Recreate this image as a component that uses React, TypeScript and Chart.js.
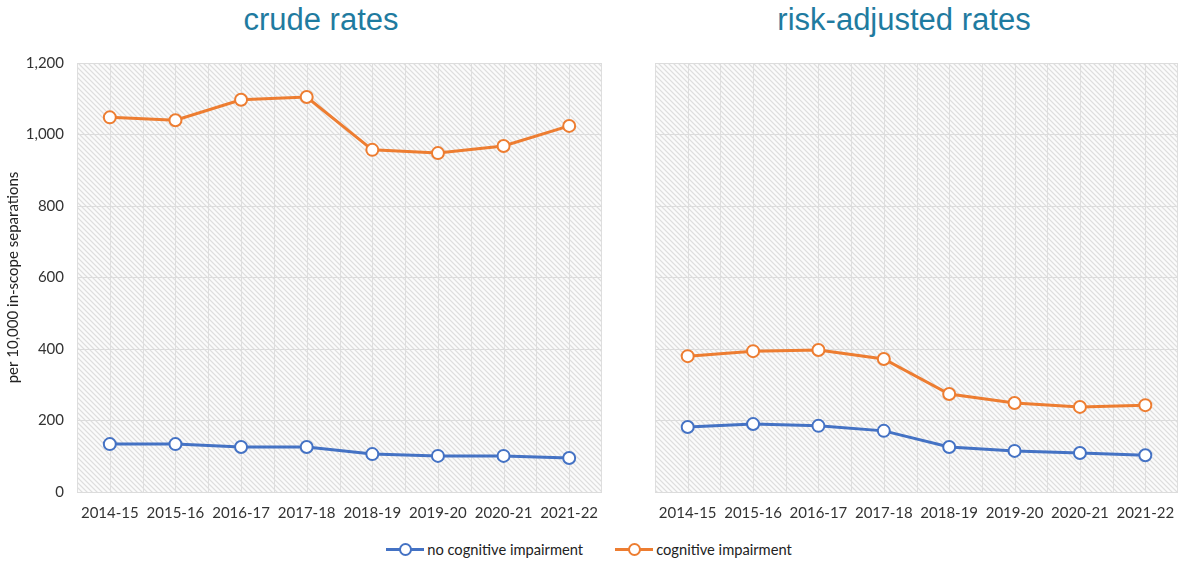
import React, { useEffect, useRef } from 'react';
import { Chart, registerables } from 'chart.js';
Chart.register(...registerables);

const categories = ['2014-15', '2015-16', '2016-17', '2017-18', '2018-19', '2019-20', '2020-21', '2021-22'];
const crudeNoCI = [134, 134, 126, 126, 106, 101, 101, 95];
const crudeCI = [1048, 1040, 1097, 1105, 957, 948, 968, 1024];
const adjNoCI = [182, 190, 185, 171, 126, 115, 109, 103];
const adjCI = [380, 394, 397, 372, 274, 249, 238, 243];
const yMin = 0;
const yMax = 1200;
const yStep = 200;
const panelTitles = ['crude rates', 'risk-adjusted rates'];
const seriesNames = ['no cognitive impairment', 'cognitive impairment'];
const yAxisTitle = 'per 10,000 in-scope separations';

const BLUE = '#4472C4';
const ORANGE = '#ED7D31';
const TITLE_COLOR = '#1F7BA0';
const TICK_FONT = 'Lato, "Noto Sans", sans-serif';

function makePattern(ctx: CanvasRenderingContext2D) {
  const s = 5;
  const c = document.createElement('canvas');
  c.width = s;
  c.height = s;
  const g = c.getContext('2d')!;
  const img = g.createImageData(s, s);
  for (let y = 0; y < s; y++) {
    for (let x = 0; x < s; x++) {
      const d = (((x - y) % s) + s) % s;
      const v = d === 0 ? 222 : d === 1 || d === s - 1 ? 240 : 251;
      const i = (y * s + x) * 4;
      img.data[i] = v;
      img.data[i + 1] = v;
      img.data[i + 2] = v;
      img.data[i + 3] = 255;
    }
  }
  g.putImageData(img, 0, 0);
  return ctx.createPattern(c, 'repeat');
}

const bgPlugin = {
  id: 'hatchBg',
  beforeDraw(chart: any) {
    const { ctx, chartArea: a, scales } = chart;
    ctx.save();
    ctx.fillStyle = makePattern(ctx) as any;
    ctx.fillRect(a.left, a.top, a.width, a.height);
    const xs = scales.x;
    const step = xs.getPixelForValue(1) - xs.getPixelForValue(0);
    ctx.strokeStyle = '#dedede';
    ctx.lineWidth = 1;
    ctx.beginPath();
    for (let i = 0; i < categories.length; i++) {
      const c = xs.getPixelForValue(i);
      const pos = i === 0 ? [c - step / 2, c, c + step / 2] : [c, c + step / 2];
      for (const p of pos) {
        const px = Math.min(Math.round(p) + 0.5, a.right - 0.5);
        ctx.moveTo(px, a.top);
        ctx.lineTo(px, a.bottom);
      }
    }
    ctx.stroke();
    ctx.restore();
  },
};

function Panel(props: { noCI: number[]; ci: number[]; showY: boolean; yWidth: number; padRight: number }) {
  const ref = useRef<HTMLCanvasElement>(null);
  useEffect(() => {
    const ds = (label: string, data: number[], color: string) => ({
      label,
      data,
      borderColor: color,
      backgroundColor: '#ffffff',
      borderWidth: 3,
      pointRadius: 6,
      pointBorderWidth: 2,
      pointBackgroundColor: '#ffffff',
      pointBorderColor: color,
      tension: 0,
    });
    const chart = new Chart(ref.current!, {
      type: 'line',
      data: {
        labels: categories,
        datasets: [ds(seriesNames[0], props.noCI, BLUE), ds(seriesNames[1], props.ci, ORANGE)],
      },
      plugins: [bgPlugin],
      options: {
        animation: false,
        responsive: true,
        maintainAspectRatio: false,
        locale: 'en-US',
        layout: { autoPadding: false, padding: { top: 63, right: props.padRight, left: 0, bottom: 0 } },
        plugins: { legend: { display: false }, tooltip: { enabled: false }, title: { display: false } },
        scales: {
          x: {
            offset: true,
            grid: { display: false, drawTicks: false },
            border: { display: false },
            ticks: { color: '#333333', font: { family: TICK_FONT, size: 15 }, padding: 12, maxRotation: 0 },
            afterFit: (s: any) => {
              s.height = 38;
              s.paddingLeft = 0;
              s.paddingRight = 0;
            },
          },
          y: {
            min: yMin,
            max: yMax,
            grid: { color: '#dcdcdc', drawTicks: false },
            border: { display: false },
            ticks: {
              display: props.showY,
              stepSize: yStep,
              color: '#333333',
              font: { family: TICK_FONT, size: 15 },
              padding: 13,
            },
            title: {
              display: props.showY,
              text: yAxisTitle,
              color: '#222222',
              font: { family: TICK_FONT, size: 15 },
              padding: { top: 4, bottom: 0 },
            },
            afterFit: (s: any) => {
              s.width = props.yWidth;
            },
          },
        },
      } as any,
    });
    return () => chart.destroy();
  }, []);
  return <canvas ref={ref} />;
}

function LegendItem(props: { color: string; label: string }) {
  return (
    <div style={{ display: 'flex', alignItems: 'center', marginRight: 32 }}>
      <div style={{ position: 'relative', width: 38, height: 14, marginRight: 3 }}>
        <div style={{ position: 'absolute', left: 0, right: 0, top: 6, height: 3, background: props.color }} />
        <div
          style={{
            position: 'absolute',
            left: 13,
            top: 1,
            width: 9,
            height: 9,
            borderRadius: '50%',
            border: `2px solid ${props.color}`,
            background: '#fff',
          }}
        />
      </div>
      <span style={{ fontFamily: TICK_FONT, fontSize: 14.7, color: '#222' }}>{props.label}</span>
    </div>
  );
}

export default function App() {
  const titleStyle = (center: number): React.CSSProperties => ({
    position: 'absolute',
    left: center - 250,
    width: 500,
    top: 2,
    textAlign: 'center',
    fontFamily: '"Liberation Sans", Arial, sans-serif',
    fontSize: 31,
    lineHeight: '36px',
    color: TITLE_COLOR,
  });
  return (
    <div style={{ position: 'absolute', left: 0, top: 0, width: 1178, height: 561, background: '#fff', overflow: 'hidden' }}>
      <div style={titleStyle(321)}>{panelTitles[0]}</div>
      <div style={titleStyle(904)}>{panelTitles[1]}</div>
      <div style={{ position: 'absolute', left: 0, top: 0, width: 609, height: 530 }}>
        <Panel noCI={crudeNoCI} ci={crudeCI} showY={true} yWidth={77} padRight={7} />
      </div>
      <div style={{ position: 'absolute', left: 610, top: 0, width: 568, height: 530 }}>
        <Panel noCI={adjNoCI} ci={adjCI} showY={false} yWidth={45} padRight={0} />
      </div>
      <div
        style={{
          position: 'absolute',
          left: 0,
          top: 540,
          width: 1178,
          display: 'flex',
          justifyContent: 'center',
          paddingLeft: 32,
          boxSizing: 'border-box',
        }}
      >
        <LegendItem color={BLUE} label={seriesNames[0]} />
        <LegendItem color={ORANGE} label={seriesNames[1]} />
      </div>
    </div>
  );
}
